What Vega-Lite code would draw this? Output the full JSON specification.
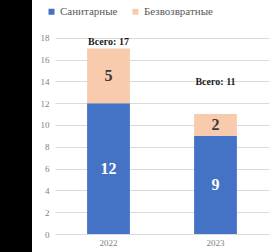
{
  "$schema": "https://vega.github.io/schema/vega-lite/v6.json",
  "background": "white",
  "padding": {"left": 0, "top": 0, "right": 4, "bottom": 0},
  "spacing": 0,
  "config": {"view": {"stroke": null}, "font": "Liberation Serif",
             "axisY": {"labelOverlap": false}},
  "resolve": {"scale": {"color": "independent"}, "legend": {"color": "independent"}},
  "hconcat": [
    {
      "width": 32,
      "height": 252,
      "view": {"fill": "black", "stroke": null},
      "data": {"values": [{"a": 1}]},
      "mark": {"type": "point", "opacity": 0},
      "encoding": {}
    },
    {
      "width": 214,
      "height": 234,
      "layer": [
        {
          "data": {"values": [
            {"year": "2022", "type": "Санитарные", "value": 12},
            {"year": "2022", "type": "Безвозвратные", "value": 5},
            {"year": "2023", "type": "Санитарные", "value": 9},
            {"year": "2023", "type": "Безвозвратные", "value": 2}
          ]},
          "mark": {"type": "bar"},
          "encoding": {
            "x": {"field": "year", "type": "nominal", "title": null,
                  "scale": {"paddingInner": 0.6, "paddingOuter": 0.3},
                  "axis": {"labelAngle": 0, "domain": false, "ticks": false, "labelPadding": 4,
                           "labelFontSize": 9, "labelColor": "#808080", "labelFont": "Liberation Serif"}},
            "y": {"field": "value", "type": "quantitative", "stack": "zero", "title": null,
                  "scale": {"domain": [0, 21.456], "nice": false},
                  "axis": {"values": [0, 2, 4, 6, 8, 10, 12, 14, 16, 18], "tickCount": 20, "domain": false, "ticks": false,
                           "labelOverlap": false, "labelPadding": 6, "labelFontSize": 9, "labelColor": "#808080",
                           "gridColor": "#dadada", "minExtent": 23, "maxExtent": 23,
                           "labelFont": "Liberation Serif"}},
            "color": {"field": "type", "type": "nominal",
                      "scale": {"domain": ["Санитарные", "Безвозвратные"], "range": ["#4472C4", "#F8CBAD"]},
                      "legend": {"title": null, "orient": "none", "direction": "horizontal",
                                 "legendX": -9, "legendY": 6, "symbolType": "square", "symbolSize": 36,
                                 "labelFontSize": 11, "labelColor": "#595959", "labelFont": "Liberation Serif",
                                 "columnPadding": 12, "labelOffset": 3}},
            "order": {"field": "type", "sort": "descending"}
          }
        },
        {
          "data": {"values": [
            {"year": "2022", "type": "Санитарные", "value": 12},
            {"year": "2022", "type": "Безвозвратные", "value": 5},
            {"year": "2023", "type": "Санитарные", "value": 9},
            {"year": "2023", "type": "Безвозвратные", "value": 2}
          ]},
          "mark": {"type": "text", "fontSize": 16, "fontWeight": "bold", "font": "Liberation Serif", "baseline": "middle"},
          "encoding": {
            "x": {"field": "year", "type": "nominal"},
            "y": {"field": "value", "type": "quantitative", "stack": "zero", "bandPosition": 0.5},
            "text": {"field": "value", "type": "quantitative"},
            "detail": {"field": "type"},
            "order": {"field": "type", "sort": "descending"},
            "color": {"condition": {"test": "datum.type === 'Санитарные'", "value": "white"}, "value": "#3a3a3a"}
          }
        },
        {
          "data": {"values": [
            {"year": "2022", "label": "Всего: 17", "pos": 17.6},
            {"year": "2023", "label": "Всего: 11", "pos": 13.9}
          ]},
          "mark": {"type": "text", "fontSize": 10, "fontWeight": "bold", "font": "Liberation Serif", "baseline": "middle", "color": "#1a1a1a"},
          "encoding": {
            "x": {"field": "year", "type": "nominal"},
            "y": {"field": "pos", "type": "quantitative"},
            "text": {"field": "label"}
          }
        }
      ]
    }
  ]
}
